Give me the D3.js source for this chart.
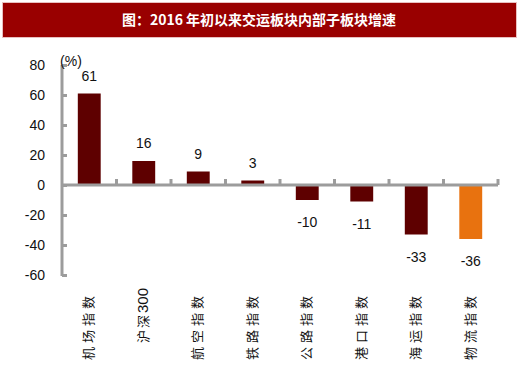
<!DOCTYPE html>
<html><head><meta charset="utf-8">
<script src="https://cdnjs.cloudflare.com/ajax/libs/d3/7.8.5/d3.min.js"></script>
<style>body{margin:0;background:#fff}</style>
</head><body>
<script>
const categories = ["机场指数","沪深300","航空指数","铁路指数","公路指数","港口指数","海运指数","物流指数"];
const values = [61,16,9,3,-10,-11,-33,-36];
const barColors = ["#5e0000","#5e0000","#5e0000","#5e0000","#5e0000","#5e0000","#5e0000","#e8720f"];
const yTicks = [80,60,40,20,0,-20,-40,-60];
const title = "图：2016 年初以来交运板块内部子板块增速";
const unit = "(%)";

const W=520,H=370;
const svg=d3.select("body").append("svg").attr("width",W).attr("height",H);
svg.append("rect").attr("x",0).attr("y",0).attr("width",W).attr("height",H).attr("fill","#fff");
svg.append("rect").attr("x",2.5).attr("y",2.5).attr("width",514).attr("height",35).attr("fill","#990000").attr("stroke","#e8c0c0").attr("stroke-width",1);
svg.append("text").attr("x",259).attr("y",25).attr("text-anchor","middle").attr("fill","#fff")
  .attr("font-family","'Noto Sans CJK SC'").attr("font-weight","bold").attr("font-size",14).text(title);

const y=d3.scaleLinear().domain([-60,80]).range([275,65]);
const x=d3.scaleBand().domain(categories).range([62,498]).paddingInner(0.58).paddingOuter(0.29);
const x0=y(0);
const axisCol="#9c9c9c";
const font="'Liberation Sans', Arial, sans-serif";

// y axis
const ya=svg.append("g").attr("transform","translate(62,0)").call(d3.axisRight(y).tickValues(yTicks).tickSize(5).tickFormat(""));
ya.select(".domain").attr("stroke",axisCol).attr("stroke-width",3).attr("d","M0,"+(y(-60)+1)+"V"+y(80));
ya.selectAll(".tick line").attr("stroke",axisCol).attr("stroke-width",3);
svg.selectAll(".ylab").data(yTicks).join("text").attr("x",45).attr("y",d=>y(d)+5)
  .attr("text-anchor","end").attr("font-family",font).attr("font-size",14).attr("fill","#111").text(d=>d);
svg.append("text").attr("x",71).attr("y",66).attr("text-anchor","middle").attr("font-family",font).attr("font-size",14).attr("fill","#111").text(unit);

// bars
svg.selectAll(".bar").data(values).join("rect")
  .attr("x",(d,i)=>x(categories[i])).attr("width",x.bandwidth())
  .attr("y",d=>d>=0?y(d):x0).attr("height",d=>Math.abs(y(d)-x0))
  .attr("fill",(d,i)=>barColors[i]);

// x axis
const bounds=d3.range(1,9).map(k=>62+ (498-62)/8*k);
svg.append("line").attr("x1",62).attr("x2",498).attr("y1",x0).attr("y2",x0).attr("stroke",axisCol).attr("stroke-width",3);
svg.selectAll(".xt").data(bounds).join("line").attr("x1",d=>d).attr("x2",d=>d).attr("y1",x0).attr("y2",x0-6).attr("stroke",axisCol).attr("stroke-width",3);

// value labels
svg.selectAll(".vl").data(values).join("text")
  .attr("x",(d,i)=>x(categories[i])+x.bandwidth()/2)
  .attr("y",d=>d>=0?y(d)-13:y(d)+27)
  .attr("text-anchor","middle").attr("font-family",font).attr("font-size",14).attr("fill","#111").text(d=>d);

// category labels
const cl=svg.selectAll(".cl").data(categories).join("text")
  .attr("transform",d=>`translate(${x(d)+x.bandwidth()/2+4},${/[0-9]/.test(d)?288:292}) rotate(-90)`)
  .attr("text-anchor","end").attr("font-family","'Noto Sans CJK SC'").attr("font-size",13).attr("fill","#111");
cl.each(function(d){
  const t=d3.select(this);
  const m=d.match(/^([^0-9]*)([0-9]*)$/);
  const cjk=m[1], num=m[2];
  t.append("tspan").attr("letter-spacing",num?2:4).text(cjk);
  if(num) t.append("tspan").attr("font-family",font).attr("font-size",15).text(num);
});
</script>
</body></html>
